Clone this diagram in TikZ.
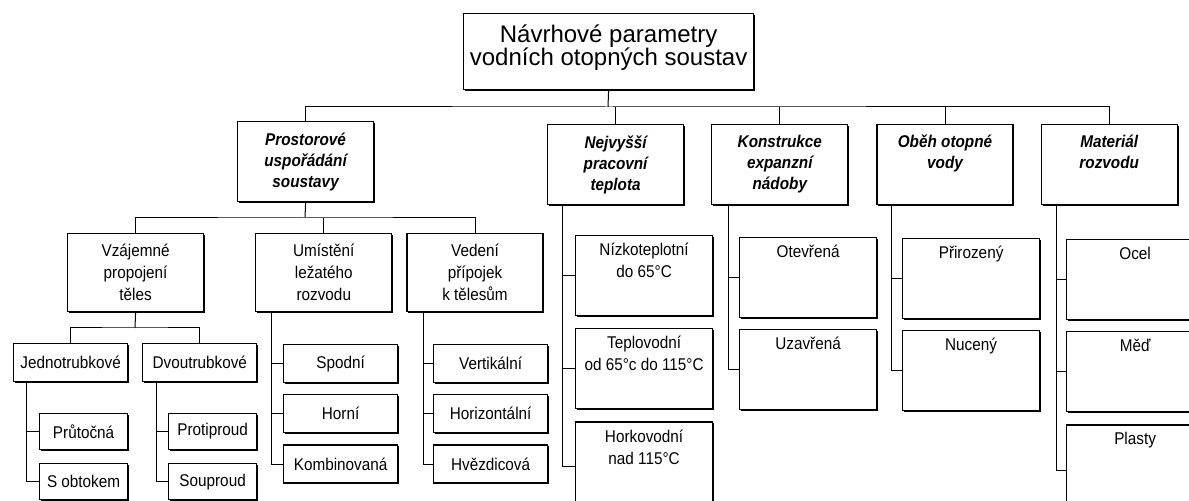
\documentclass[tikz,border=0pt]{standalone}
\usepackage{fontspec}
\setmainfont{Liberation Sans}
\newfontfamily\narrowfam[FakeStretch=0.9]{Liberation Sans}
\usetikzlibrary{positioning,shadows}

\newcommand{\leaffont}{\narrowfam\fontsize{17bp}{22bp}\selectfont}
\newcommand{\catfont}{\narrowfam\fontsize{17bp}{21bp}\selectfont\bfseries\itshape}
\newcommand{\titlefont}{\fontsize{24bp}{23bp}\selectfont}

\tikzset{
  box/.style={draw, line width=1.2bp, fill=white, inner sep=0pt, align=center,
    drop shadow={shadow xshift=1.4bp, shadow yshift=-1.4bp, opacity=1, fill=black}},
  catbox/.style={box, font=\catfont, minimum width=136bp, minimum height=80bp},
  grpbox/.style={box, font=\leaffont, minimum width=136bp, minimum height=78bp},
  leaf/.style={box, font=\leaffont, minimum width=114bp, minimum height=38bp},
  smallleaf/.style={box, font=\leaffont, minimum width=88bp, minimum height=36bp},
  tallbox/.style={box, minimum width=137bp, minimum height=80bp},
  toptext/.style={label={[font=\leaffont, align=center, anchor=north, inner sep=0pt, yshift=-8bp]north:#1}},
  cattop/.style={label={[font=\catfont, align=center, anchor=north, inner sep=0pt, yshift=-11bp]north:#1}},
  titletop/.style={label={[font=\titlefont, align=center, anchor=north, inner sep=0pt, yshift=-12bp]north:#1}},
  link/.style={line width=1bp},
}

\begin{document}
\begin{tikzpicture}[x=1bp, y=-1bp]
      \useasboundingbox (0,0) rectangle (1189,501);
      \clip (0,0) rectangle (1189,501);

      \node[box, anchor=north west, minimum width=290bp, minimum height=76bp,
            titletop={Návrhové parametry\\vodních otopných soustav}] (title) at (463,13) {}; %root

      % main groups
      \node[catbox, anchor=north west] (prost) at (237,121) {Prostorové\\uspořádání\\soustavy};
      \node[catbox, anchor=north west] (nejv) at (547,124) {Nejvyšší\\pracovní\\teplota};
      \node[catbox, right=27bp of nejv] (konst) {Konstrukce\\expanzní\\nádoby};
      \node[catbox, right=28bp of konst, cattop={Oběh otopné\\vody}] (obeh) {};
      \node[catbox, right=27bp of obeh, cattop={Materiál\\rozvodu}] (mater) {};

      % below prost
      \node[grpbox, anchor=north west] (vzaj) at (67,233) {Vzájemné\\propojení\\těles};
      \node[grpbox, right=51bp of vzaj] (umist) {Umístění\\ležatého\\rozvodu};
      \node[grpbox, right=14bp of umist] (vedeni) {Vedení\\přípojek\\k tělesům};

      \node[leaf, anchor=north west] (jedno) at (13,343) {Jednotrubkové};
      \node[leaf, right=14bp of jedno] (dvou) {Dvoutrubkové};
      \node[smallleaf, anchor=north west] (prutoc) at (39,413) {Průtočná};
      \node[smallleaf, below=13bp of prutoc] (sobtok) {S obtokem};
      \node[smallleaf, anchor=north west] (protip) at (168,413) {Protiproud};
      \node[smallleaf, below=13bp of protip] (soupr) {Souproud};

      \node[leaf, anchor=north west] (spodni) at (283,344) {Spodní};
      \node[leaf, below=11bp of spodni] (horni) {Horní};
      \node[leaf, below=11bp of horni] (kombin) {Kombinovaná};

      \node[leaf, anchor=north west] (vert) at (433,344) {Vertikální};
      \node[leaf, below=11bp of vert] (horiz) {Horizontální};
      \node[leaf, below=11bp of horiz] (hvezd) {Hvězdicová};

      % below nejv
      \node[tallbox, anchor=north west, toptext={Nízkoteplotní\\do 65°C}] (nizko) at (575,235) {};
      \node[tallbox, below=12bp of nizko, toptext={Teplovodní\\od 65°c do 115°C}] (teplo) {};
      \node[tallbox, below=12bp of teplo, minimum height=88bp, toptext={Horkovodní\\nad 115°C}] (horko) {};

      % below konst
      \node[tallbox, anchor=north west, toptext={Otevřená}] (otev) at (739,237) {};
      \node[tallbox, below=11bp of otev, toptext={Uzavřená}] (uzav) {};

      % below obeh
      \node[tallbox, anchor=north west, toptext={Přirozený}] (priroz) at (902,238) {};
      \node[tallbox, below=11bp of priroz, toptext={Nucený}] (nucen) {};

      % below mater
      \node[tallbox, anchor=north west, toptext={Ocel}] (ocel) at (1066,239) {};
      \node[tallbox, below=11bp of ocel, toptext={Měď}] (med) {};
      \node[tallbox, below=12bp of med, minimum height=90bp, toptext={Plasty}] (plasty) {};

      % tree lines
      \coordinate (bus1) at (608,107);
      \coordinate (bus2) at (305,218);
      \coordinate (bus3) at (135,328);

      \draw[link] (title.south) -- (bus1);
      \draw[link] (prost.north) |- (bus1) -| (mater.north);
      \foreach \n in {nejv,konst,obeh}
        \draw[link] (\n.north) -- (\n.north |- bus1);

      \draw[link] (prost.south) -- (bus2);
      \draw[link] (vzaj.north) |- (bus2) -| (vedeni.north);
      \draw[link] (umist.north) -- (umist.north |- bus2);

      \draw[link] (vzaj.south) -- (bus3);
      \draw[link] (jedno.north) |- (bus3) -| (dvou.north);

      \foreach \c in {prutoc,sobtok}
        \draw[link] ([xshift=13bp]jedno.south west) |- (\c.west);
      \foreach \c in {protip,soupr}
        \draw[link] ([xshift=14bp]dvou.south west) |- (\c.west);
      \foreach \c in {spodni,horni,kombin}
        \draw[link] ([xshift=16bp]umist.south west) |- (\c.west);
      \foreach \c in {vert,horiz,hvezd}
        \draw[link] ([xshift=17bp]vedeni.south west) |- (\c.west);
      \foreach \c in {nizko,teplo,horko}
        \draw[link] ([xshift=15bp]nejv.south west) |- (\c.west);
      \foreach \c in {otev,uzav}
        \draw[link] ([xshift=17bp]konst.south west) |- (\c.west);
      \foreach \c in {priroz,nucen}
        \draw[link] ([xshift=15bp]obeh.south west) |- (\c.west);
      \foreach \c in {ocel,med,plasty}
        \draw[link] ([xshift=16bp]mater.south west) |- (\c.west);

\end{tikzpicture}
\end{document}
